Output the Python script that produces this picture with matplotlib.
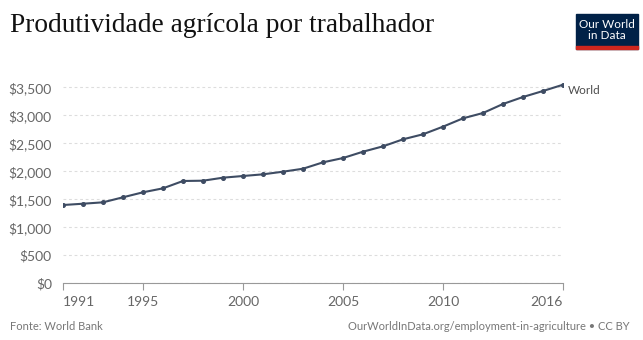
import matplotlib.pyplot as plt
from matplotlib.patches import Rectangle

# data
years = list(range(1991, 2017))
output_per_worker = [1398, 1421, 1446, 1536, 1625, 1696, 1827, 1832, 1886, 1916,
                     1946, 1993, 2046, 2160, 2237, 2350, 2446, 2571, 2661, 2797,
                     2946, 3041, 3202, 3327, 3434, 3546]
series_name = 'World'
x_ticks = [1991, 1995, 2000, 2005, 2010, 2016]
y_ticks = [0, 500, 1000, 1500, 2000, 2500, 3000, 3500]

plt.rcParams['font.family'] = ['Lato', 'DejaVu Sans']

fig = plt.figure(figsize=(6.43, 3.40), dpi=100)
ax = fig.add_axes([63 / 643, 1 - 283.3 / 340, 500 / 643, (283.3 - 81.7) / 340])

line_color = '#3e4c63'
ax.plot(years, output_per_worker, color=line_color, lw=1.5,
        marker='o', ms=2.6, zorder=3)
ax.text(years[-1] + 0.25, output_per_worker[-1], series_name, fontsize=8.5,
        color='#4d4d4d', va='top', ha='left')

ax.set_xlim(years[0], years[-1])
ax.set_ylim(0, 3600)
ax.set_xticks(x_ticks)
ax.set_yticks(y_ticks)
ax.set_yticklabels([f'${v:,}' for v in y_ticks])

ax.grid(axis='y', color='#dddddd', ls=(0, (2.5, 2.5)), lw=0.8)
ax.set_axisbelow(True)
for side in ['top', 'right', 'left']:
    ax.spines[side].set_visible(False)
ax.spines['bottom'].set_color('#999999')
ax.tick_params(axis='y', length=0, pad=8, labelsize=10, labelcolor='#666666')
ax.tick_params(axis='x', length=5, color='#999999', pad=4,
               labelsize=10, labelcolor='#666666')
xlabels = ax.get_xticklabels()
xlabels[0].set_horizontalalignment('left')
xlabels[-1].set_horizontalalignment('right')

# title
fig.text(10 / 643, 1 - 32 / 340, 'Produtividade agrícola por trabalhador',
         fontsize=19.7, family='Liberation Serif', color='#111111')

# logo
fig.patches.append(Rectangle((576 / 643, 1 - 49 / 340), 62 / 643, 35 / 340,
                             transform=fig.transFigure, color='#002147'))
fig.patches.append(Rectangle((576 / 643, 1 - 49 / 340), 62 / 643, 3 / 340,
                             transform=fig.transFigure, color='#ce261e'))
fig.text(607 / 643, 1 - 30 / 340, 'Our World\nin Data', fontsize=8.5,
         color='white', ha='center', va='center', linespacing=1.0)

# footer
fig.text(10 / 643, 1 - 330 / 340, 'Fonte: World Bank', fontsize=8,
         color='#777777')
fig.text(630 / 643, 1 - 330 / 340,
         'OurWorldInData.org/employment-in-agriculture • CC BY',
         fontsize=8, color='#777777', ha='right')

fig.savefig('out.png', dpi=100)
